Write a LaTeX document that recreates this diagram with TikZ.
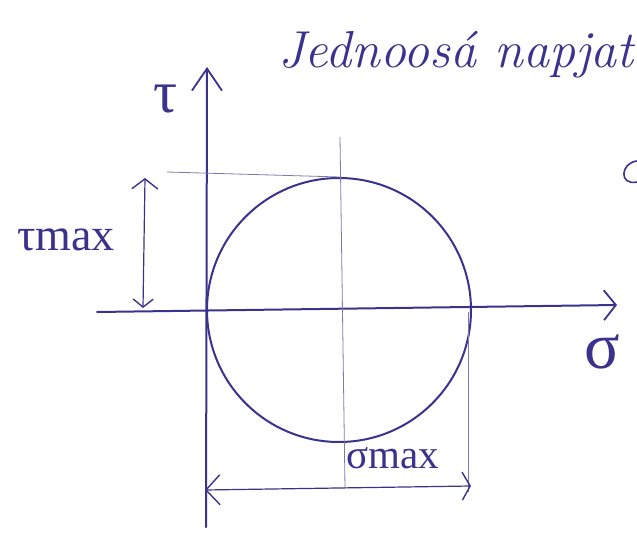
\documentclass[tikz,border=0pt]{standalone}
\usepackage{fontspec}
\newfontfamily\grk{Liberation Serif}
\usetikzlibrary{arrows.meta}
\definecolor{ink}{RGB}{58,50,140}
\definecolor{thinink}{RGB}{125,122,175}
\begin{document}
\begin{tikzpicture}[x=1pt,y=-1pt,
  inkline/.style={draw=ink,line width=2pt,line cap=round},
  helper/.style={draw=thinink,line width=0.8pt},
  lbl/.style={text=ink,inner sep=0pt}]
\useasboundingbox (0,0) rectangle (637,540);
% title
\node[lbl,anchor=base west,font=\fontsize{52}{54}\selectfont\itshape] (title) at (278,68) {Jednoosá napjat};
% stroke fragment at right edge
\draw[inkline,line width=1.6pt] (637,161) .. controls (620,163) and (619,186) .. (637,182);
% axes
\coordinate (tb) at (206,527);
\coordinate (tt) at (207,67);
\coordinate (sl) at (97,312);
\coordinate (sr) at (617,305);
\draw[inkline,-{Straight Barb[length=22pt,width=30pt,line width=1.8pt]}] (tb) -- (tt);
\draw[inkline,-{Straight Barb[length=12pt,width=30pt,line width=1.8pt]}] (sl) -- (sr);
\node[lbl,font=\fontsize{60}{62}\selectfont\grk] (tau) at (166,99) {τ};
\node[lbl,font=\fontsize{66}{68}\selectfont\grk] (sig) at (602,352) {σ};
% circle
\coordinate (c) at (339,310);
\draw[inkline] (c) circle[radius=132];
% helper lines
\coordinate (vt) at (340,137);
\coordinate (vb) at (345,488);
\draw[helper] (vt) -- (vb);
\coordinate (ht1) at (167,172);
\coordinate (ht2) at (340,177);
\draw[helper] (ht1) -- (ht2);
\coordinate (rt) at (468,312);
\coordinate (rb) at (468,492);
\draw[helper] (rt) -- (rb);
% tau max
\coordinate (tm1) at (143,308);
\coordinate (tm2) at (145,178);
\draw[draw=ink,line width=1.2pt,{Straight Barb[length=8pt,width=20pt,line width=1.4pt]}-{Straight Barb[length=10pt,width=26pt,line width=1.4pt]}] (tm1) -- (tm2);
\node[lbl,font=\fontsize{46}{48}\selectfont\grk] (taumax) at (66,240) {τmax};
% sigma max
\coordinate (sm1) at (205,490);
\coordinate (sm2) at (471,486);
\draw[draw=ink,line width=1.2pt,{Straight Barb[length=14pt,width=30pt,line width=1.4pt]}-{Straight Barb[length=8pt,width=28pt,line width=1.4pt]}] (sm1) -- (sm2);
\node[lbl,font=\fontsize{41}{43}\selectfont\grk] (sigmax) at (393,458) {σmax};
\end{tikzpicture}
\end{document}
